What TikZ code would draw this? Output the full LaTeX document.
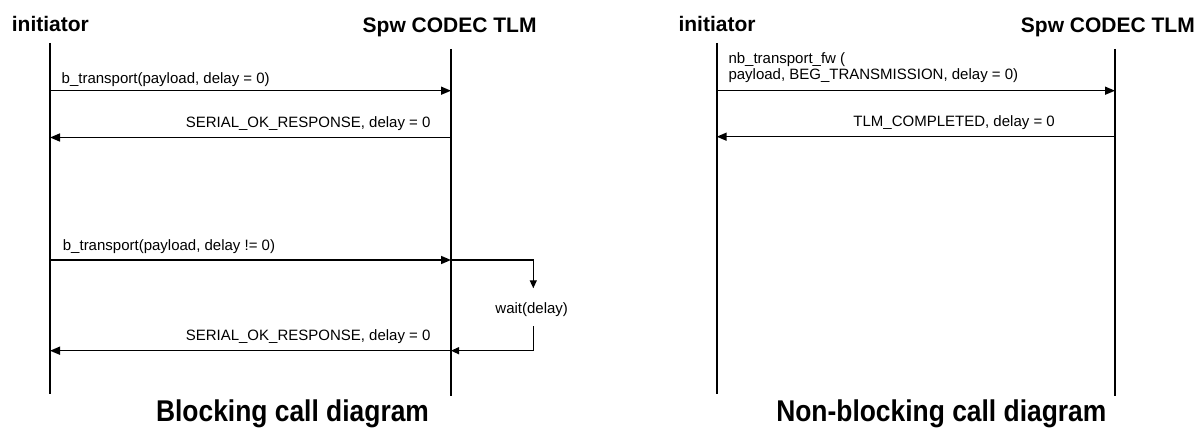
\documentclass[tikz,border=0pt]{standalone}
\usepackage{fontspec}
\usepackage{graphicx}
\setmainfont{Liberation Sans}
\usetikzlibrary{arrows.meta}

\tikzset{
  lifeline/.style={line width=1.8pt},
  msg/.style={line width=1.5pt, -{Triangle[length=10pt,width=8pt]}},
  loopline/.style={line width=1.2pt},
  looptip/.style={-{Triangle[length=8pt,width=7pt]}},
  lbl/.style={inner sep=0pt, font=\fontsize{15}{16.7}\selectfont},
  head/.style={inner sep=0pt, font=\fontsize{21}{24}\selectfont\bfseries},
  ttl/.style={inner sep=0pt, font=\fontsize{30}{34}\selectfont\bfseries},
}

\begin{document}
\begin{tikzpicture}[x=1pt,y=-1pt]
  % canvas
  \useasboundingbox (0,0) rectangle (1203,428);

  %%% Blocking call diagram
  % lifelines
  \coordinate (biTop) at (50,43);
  \coordinate (biBot) at (50,394);
  \coordinate (bsTop) at (451,49);
  \coordinate (bsBot) at (451,396);
  \draw[lifeline] (biTop) -- (biBot);
  \draw[lifeline] (bsTop) -- (bsBot);
  % headers
  \node[head, anchor=base west] (biHead) at (11.7,32) {initiator};
  \node[head, anchor=base east] (bsHead) at (536.7,32.5) {Spw CODEC TLM};
  % b_transport, delay = 0
  \coordinate (bm1a) at (50,90.7);
  \coordinate (bm1b) at (451,90.7);
  \draw[msg] (bm1a) -- (bm1b);
  \node[lbl, anchor=base west] (bm1Lbl) at (61.5,83.3) {b\_transport(payload, delay = 0)};
  % response
  \coordinate (bm2a) at (451,137.5);
  \coordinate (bm2b) at (50,137.5);
  \draw[msg] (bm2a) -- (bm2b);
  \node[lbl, anchor=base east] (bm2Lbl) at (430.7,127) {SERIAL\_OK\_RESPONSE, delay = 0};
  % b_transport, delay != 0
  \coordinate (bm3a) at (50,260);
  \coordinate (bm3b) at (451,260);
  \draw[msg] (bm3a) -- (bm3b);
  \node[lbl, anchor=base west] (bm3Lbl) at (62.7,250.7) {b\_transport(payload, delay != 0)};
  % wait loop
  \coordinate (bwTop) at (533.3,260);
  \coordinate (bwIn) at (533.3,288.3);
  \coordinate (bwOut) at (533.3,326);
  \coordinate (bwBot) at (533.3,350.7);
  \coordinate (bwEnd) at (451,350.7);
  \draw[loopline, looptip] (bm3b) -- (bwTop) -- (bwIn);
  \node[lbl, anchor=base] (bwLbl) at (531.7,313) {wait(delay)};
  \draw[loopline, looptip] (bwOut) -- (bwBot) -- (bwEnd);
  % response after wait
  \coordinate (bm4b) at (50,350.7);
  \draw[msg] (bwEnd) -- (bm4b);
  \node[lbl, anchor=base east] (bm4Lbl) at (430.7,340.7) {SERIAL\_OK\_RESPONSE, delay = 0};
  % caption
  \node[ttl, anchor=base] (bTitle) at (292.5,421.5) {\scalebox{0.88}[1]{Blocking call diagram}};

  %%% Non-blocking call diagram
  % lifelines
  \coordinate (niTop) at (716.7,43);
  \coordinate (niBot) at (716.7,394);
  \coordinate (nsTop) at (1115,49);
  \coordinate (nsBot) at (1115,396);
  \draw[lifeline] (niTop) -- (niBot);
  \draw[lifeline] (nsTop) -- (nsBot);
  % headers
  \node[head, anchor=base west] (niHead) at (678.3,32) {initiator};
  \node[head, anchor=base east] (nsHead) at (1195,32.5) {Spw CODEC TLM};
  % nb_transport_fw
  \coordinate (nm1a) at (716.7,90.7);
  \coordinate (nm1b) at (1115,90.7);
  \draw[msg] (nm1a) -- (nm1b);
  \node[lbl, align=left, anchor=base west] (nm1Lbl) at (728.3,80)
    {nb\_transport\_fw (\\payload, BEG\_TRANSMISSION, delay = 0)};
  % completed
  \coordinate (nm2a) at (1115,136.7);
  \coordinate (nm2b) at (716.7,136.7);
  \draw[msg] (nm2a) -- (nm2b);
  \node[lbl, anchor=base east] (nm2Lbl) at (1055,126.7) {TLM\_COMPLETED, delay = 0};
  % caption
  \node[ttl, anchor=base] (nTitle) at (941.3,421.5) {\scalebox{0.88}[1]{Non-blocking call diagram}};
\end{tikzpicture}
\end{document}
